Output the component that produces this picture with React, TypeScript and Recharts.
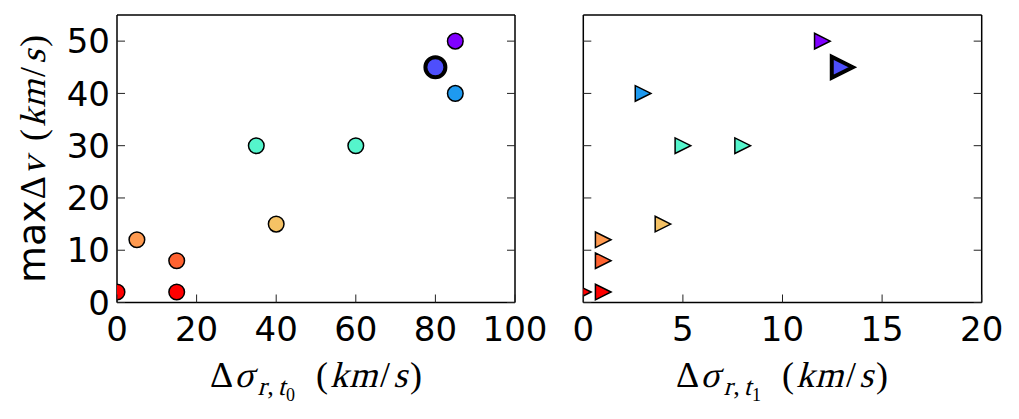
import { useLayoutEffect, useRef, useState } from 'react';
import { ScatterChart, Scatter, XAxis, YAxis } from 'recharts';

// max delta-v per object, and the two sigma offsets
const MAX_DV = [2, 2, 8, 12, 15, 30, 30, 40, 50, 45];
const DSIG_T0 = [0, 15, 15, 5, 40, 35, 60, 85, 85, 80];
const DSIG_T1 = [0, 1, 1, 1, 4, 5, 8, 3, 12, 13];

const X0_TICKS = [0, 20, 40, 60, 80, 100];
const X1_TICKS = [0, 5, 10, 15, 20];
const Y_TICKS = [0, 10, 20, 30, 40, 50];

const COLORS = ['#ff0000', '#ff0000', '#ff6230', '#ff9a50', '#f5c265', '#55f5cc', '#55f5cc', '#1e9af0', '#8000ff', '#4e4ffc'];
const BIG = 9; // the thick-edged marker

const left = DSIG_T0.map((x, i) => ({ x, y: MAX_DV[i], i }));
const right = DSIG_T1.map((x, i) => ({ x, y: MAX_DV[i], i }));

const TICK_FONT = '"DejaVu Sans", sans-serif';
const TICK_SIZE = 34;
const TICK_LEN = 8;
const MATH_FONT = '"Liberation Serif", serif';

function BottomTick(p: any) {
  const { x, y, payload, showLabel } = p;
  return (
    <g>
      <line x1={x} y1={y} x2={x} y2={y - TICK_LEN} stroke="#222" strokeWidth={1} />
      {showLabel && (
        <text x={x} y={y + 38} textAnchor="middle" style={{ fontFamily: TICK_FONT, fontSize: TICK_SIZE }} fill="#000">
          {payload.value}
        </text>
      )}
    </g>
  );
}

function TopTick(p: any) {
  const { x, y } = p;
  return <line x1={x} y1={y} x2={x} y2={y + TICK_LEN} stroke="#222" strokeWidth={1} />;
}

function LeftTick(p: any) {
  const { x, y, payload, showLabel } = p;
  return (
    <g>
      <line x1={x} y1={y} x2={x + TICK_LEN} y2={y} stroke="#222" strokeWidth={1} />
      {showLabel && (
        <text x={x - 7} y={y} dy="0.36em" textAnchor="end" style={{ fontFamily: TICK_FONT, fontSize: TICK_SIZE }} fill="#000">
          {payload.value}
        </text>
      )}
    </g>
  );
}

function RightTick(p: any) {
  const { x, y } = p;
  return <line x1={x} y1={y} x2={x - TICK_LEN} y2={y} stroke="#222" strokeWidth={1} />;
}

function Dot(p: any) {
  const { cx, cy, payload } = p;
  const big = payload.i === BIG;
  return (
    <circle cx={cx} cy={cy} r={big ? 10 : 7.8} fill={COLORS[payload.i]} stroke="#000" strokeWidth={big ? 4 : 1.5} />
  );
}

function Tri(p: any) {
  const { cx, cy, payload } = p;
  const big = payload.i === BIG;
  const h = big ? 10.5 : 7.8;
  const pts = `${cx + h},${cy} ${cx - h},${cy - h} ${cx - h},${cy + h}`;
  return (
    <polygon points={pts} fill={COLORS[payload.i]} stroke="#000" strokeWidth={big ? 4 : 1.5} strokeLinejoin="miter" />
  );
}

const frame = { stroke: '#000', strokeWidth: 1.5 };

function Panel(props: any) {
  const { width, leftW, rightM, domain, ticks, data, shape, yLabels } = props;
  return (
    <ScatterChart width={width} height={419} margin={{ top: 14, right: rightM, bottom: 0, left: 0 }}>
      <XAxis
        xAxisId="b"
        dataKey="x"
        type="number"
        domain={domain}
        ticks={ticks}
        interval={0}
        allowDataOverflow
        height={116.5}
        axisLine={frame}
        tickLine={false}
        tickSize={0}
        tickMargin={0}
        tick={(t: any) => <BottomTick {...t} showLabel />}
      />
      <XAxis
        xAxisId="t"
        orientation="top"
        type="number"
        domain={domain}
        ticks={ticks}
        interval={0}
        allowDataOverflow
        height={1}
        axisLine={frame}
        tickLine={false}
        tickSize={0}
        tickMargin={0}
        tick={(t: any) => <TopTick {...t} />}
      />
      <YAxis
        yAxisId="l"
        dataKey="y"
        type="number"
        domain={[0, 55]}
        ticks={Y_TICKS}
        interval={0}
        allowDataOverflow
        width={leftW}
        axisLine={frame}
        tickLine={false}
        tickSize={0}
        tickMargin={0}
        tick={(t: any) => <LeftTick {...t} showLabel={yLabels} />}
      />
      <YAxis
        yAxisId="r"
        orientation="right"
        type="number"
        domain={[0, 55]}
        ticks={Y_TICKS}
        interval={0}
        allowDataOverflow
        width={5}
        axisLine={frame}
        tickLine={false}
        tickSize={0}
        tickMargin={0}
        tick={(t: any) => <RightTick {...t} />}
      />
      <Scatter xAxisId="b" yAxisId="l" data={data} shape={shape} isAnimationActive={false} />
    </ScatterChart>
  );
}

// there is no serif italic face installed, so italic runs are upright serif skewed
type Run = { t: string; it?: boolean; sans?: boolean; size: number; dy?: number; dx?: number };

function MathText({ runs, cx, y }: { runs: Run[]; cx: number; y: number }) {
  const refs = useRef<(SVGTextElement | null)[]>([]);
  const [widths, setWidths] = useState<number[] | null>(null);
  useLayoutEffect(() => {
    setWidths(refs.current.map((el) => (el ? el.getComputedTextLength() : 0)));
  }, []);
  const w = widths ?? runs.map((r) => r.t.length * r.size * 0.5);
  const total = runs.reduce((s, r, i) => s + (r.dx || 0) + w[i], 0);
  let x = cx - total / 2;
  return (
    <g>
      {runs.map((r, i) => {
        x += r.dx || 0;
        const x0 = x;
        x += w[i];
        return (
          <text
            key={i}
            ref={(el) => {
              refs.current[i] = el;
            }}
            transform={`translate(${x0},${y + (r.dy || 0)})${r.it ? ' skewX(-15)' : ''}`}
            style={{ fontFamily: r.sans ? TICK_FONT : MATH_FONT, fontSize: r.size }}
            fill="#000"
          >
            {r.t}
          </text>
        );
      })}
    </g>
  );
}

const S = 36;
const kms = (gap: number): Run[] => [
  { t: '(', size: S, dx: gap },
  { t: 'k', it: true, size: S, dx: 2 },
  { t: 'm', it: true, size: S, dx: 1 },
  { t: '/', size: S, dx: 3 },
  { t: 's', it: true, size: S, dx: 3 },
  { t: ')', size: S, dx: 3 },
];
const xRuns = (sub: string): Run[] => [
  { t: 'Δ', size: S },
  { t: 'σ', it: true, size: S, dx: 1 },
  { t: 'r', it: true, size: 26, dy: 8, dx: 4 },
  { t: ',', size: 26, dy: 8, dx: 1 },
  { t: 't', it: true, size: 26, dy: 8, dx: 4 },
  { t: sub, size: 18, dy: 14, dx: 1 },
  ...kms(21),
];
const yRuns: Run[] = [
  { t: 'max', sans: true, size: 38 },
  { t: 'Δ', size: S, dx: 1 },
  { t: 'v', it: true, size: S, dx: 1 },
  ...kms(16),
];

export default function App() {
  return (
    <div style={{ position: 'absolute', left: 0, top: 0, width: 1019, height: 419, background: '#fff' }}>
      <div style={{ position: 'absolute', left: 0, top: 0 }}>
        <Panel width={560} leftW={117} rightM={40} domain={[0, 100]} ticks={X0_TICKS} data={left} shape={Dot} yLabels />
      </div>
      <div style={{ position: 'absolute', left: 520, top: 0 }}>
        <Panel width={499} leftW={63.3} rightM={32.3} domain={[0, 20]} ticks={X1_TICKS} data={right} shape={Tri} yLabels={false} />
      </div>
      <svg width={1019} height={419} style={{ position: 'absolute', left: 0, top: 0, pointerEvents: 'none' }}>
        <MathText runs={xRuns('0')} cx={316} y={387} />
        <MathText runs={xRuns('1')} cx={782} y={387} />
        <g transform="translate(45,159) rotate(-90)">
          <MathText runs={yRuns} cx={0} y={0} />
        </g>
      </svg>
    </div>
  );
}
